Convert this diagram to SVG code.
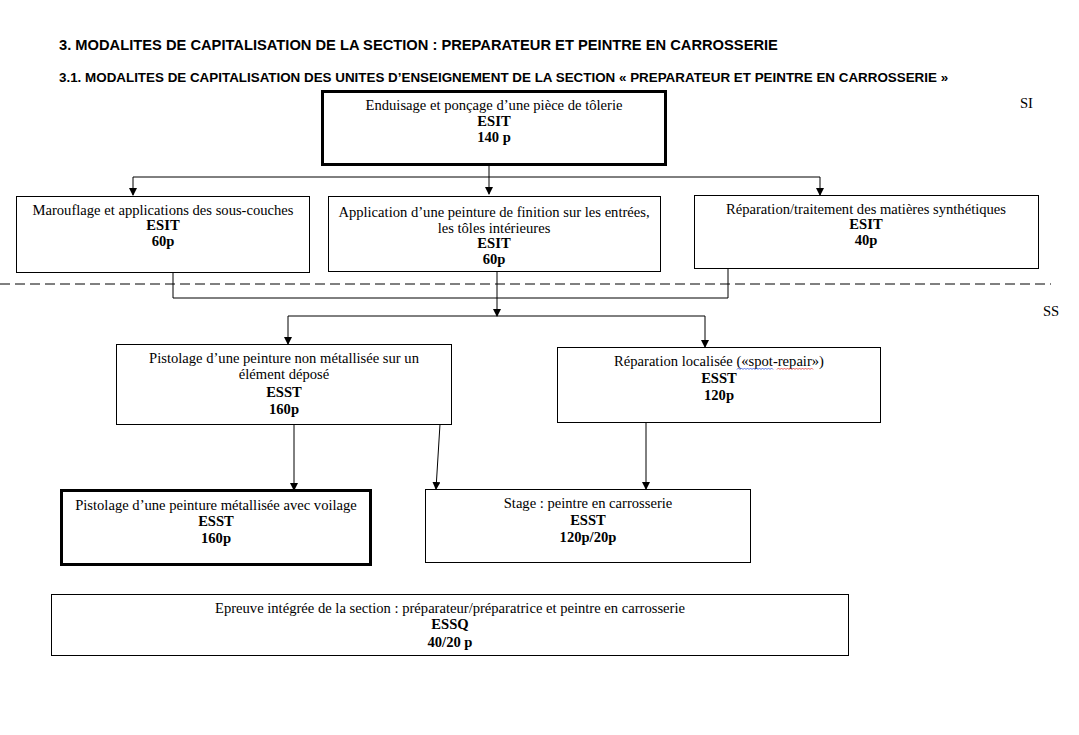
<svg xmlns="http://www.w3.org/2000/svg" width="1079" height="735" viewBox="0 0 1079 735">
<style>
.t{font-family:"Liberation Serif","Times New Roman",serif;font-size:14.6px;fill:#000;text-anchor:middle}
.b{font-weight:bold}
.h{font-family:"Liberation Sans",Arial,sans-serif;font-weight:bold;fill:#000}
.box{fill:#fff;stroke:#000;stroke-width:1}
.thick{fill:#fff;stroke:#000;stroke-width:3}
.c{fill:none;stroke:#000;stroke-width:1}
.lbl{font-family:"Liberation Serif","Times New Roman",serif;font-size:14.6px;fill:#000}
.sq{fill:none;stroke-width:0.8}
</style>
<defs>
<marker id="arr" markerWidth="8" markerHeight="8" refX="7" refY="4" orient="auto" markerUnits="userSpaceOnUse">
<path d="M0,0 L8,4 L0,8 Z" fill="#000"/>
</marker>
</defs>
<rect width="1079" height="735" fill="#fff"/>
<text class="h" x="59" y="50" font-size="14.7">3. MODALITES DE CAPITALISATION DE LA SECTION : PREPARATEUR ET PEINTRE EN CARROSSERIE</text>
<text class="h" x="59" y="82" font-size="13.4">3.1. MODALITES DE CAPITALISATION DES UNITES D’ENSEIGNEMENT DE LA SECTION « PREPARATEUR ET PEINTRE EN CARROSSERIE »</text>
<text class="lbl" x="1020" y="108">SI</text>
<text class="lbl" x="1043" y="316">SS</text>
<line x1="0" y1="284" x2="1051" y2="284" stroke="#000" stroke-width="1" stroke-dasharray="10,5"/>
<g id="connectors">
<path class="c" d="M489,165 V177"/>
<path class="c" d="M133,177 H820"/>
<path class="c" d="M133,177 V195" marker-end="url(#arr)"/>
<path class="c" d="M489,177 V194" marker-end="url(#arr)"/>
<path class="c" d="M820,177 V195" marker-end="url(#arr)"/>
<path class="c" d="M173,273 V298 H728 V269"/>
<path class="c" d="M497,272 V316" marker-end="url(#arr)"/>
<path class="c" d="M288,316 H705"/>
<path class="c" d="M288,316 V344" marker-end="url(#arr)"/>
<path class="c" d="M705,316 V347" marker-end="url(#arr)"/>
<path class="c" d="M294,425 V490" marker-end="url(#arr)"/>
<path class="c" d="M440,424 L436,489" marker-end="url(#arr)"/>
<path class="c" d="M646,423 V489" marker-end="url(#arr)"/>
</g>
<g id="n1">
<rect class="thick" x="322.5" y="91.5" width="343" height="73"/>
<text class="t" x="494" y="110">Enduisage et ponçage d’une pièce de tôlerie</text>
<text class="t b" x="494" y="126">ESIT</text>
<text class="t b" x="494" y="142">140 p</text>
</g>
<g id="n2">
<rect class="box" x="16.5" y="196.5" width="293" height="76"/>
<text class="t" x="163" y="215">Marouflage et applications des sous-couches</text>
<text class="t b" x="163" y="230">ESIT</text>
<text class="t b" x="163" y="246">60p</text>
</g>
<g id="n3">
<rect class="box" x="328.5" y="196.5" width="332" height="75"/>
<text class="t" x="494" y="217">Application d’une peinture de finition sur les entrées,</text>
<text class="t" x="494" y="233">les tôles intérieures</text>
<text class="t b" x="494" y="248">ESIT</text>
<text class="t b" x="494" y="264">60p</text>
</g>
<g id="n4">
<rect class="box" x="694.5" y="195.5" width="344" height="73"/>
<text class="t" x="866" y="214">Réparation/traitement des matières synthétiques</text>
<text class="t b" x="866" y="229">ESIT</text>
<text class="t b" x="866" y="245">40p</text>
</g>
<g id="n5">
<rect class="box" x="116.5" y="344.5" width="335" height="80"/>
<text class="t" x="284" y="363">Pistolage d’une peinture non métallisée sur un</text>
<text class="t" x="284" y="379">élément déposé</text>
<text class="t b" x="284" y="397">ESST</text>
<text class="t b" x="284" y="414">160p</text>
</g>
<g id="n6">
<rect class="box" x="557.5" y="347.5" width="323" height="75"/>
<text class="t" x="719" y="366">Réparation localisée («spot-repair»)</text>
<text class="t b" x="719" y="383">ESST</text>
<text class="t b" x="719" y="400">120p</text>
<path class="sq" stroke="#3050e0" d="M737,369.5 l1.5,-1.5 l1.5,1.5 l1.5,-1.5 l1.5,1.5 l1.5,-1.5 l1.5,1.5 l1.5,-1.5 l1.5,1.5 l1.5,-1.5 l1.5,1.5 l1.5,-1.5 l1.5,1.5 l1.5,-1.5 l1.5,1.5 l1.5,-1.5 l1.5,1.5 l1.5,-1.5 l1.5,1.5 l1.5,-1.5 l1.5,1.5 l1.5,-1.5 l1.5,1.5 l1.5,-1.5 l1.5,1.5"/>
<path class="sq" stroke="#e03030" d="M777,369.5 l1.5,-1.5 l1.5,1.5 l1.5,-1.5 l1.5,1.5 l1.5,-1.5 l1.5,1.5 l1.5,-1.5 l1.5,1.5 l1.5,-1.5 l1.5,1.5 l1.5,-1.5 l1.5,1.5 l1.5,-1.5 l1.5,1.5 l1.5,-1.5 l1.5,1.5 l1.5,-1.5 l1.5,1.5 l1.5,-1.5 l1.5,1.5 l1.5,-1.5 l1.5,1.5 l1.5,-1.5 l1.5,1.5"/>
</g>
<g id="n7">
<rect class="thick" x="61.5" y="490.5" width="309" height="74"/>
<text class="t" x="216" y="510">Pistolage d’une peinture métallisée avec voilage</text>
<text class="t b" x="216" y="526">ESST</text>
<text class="t b" x="216" y="543">160p</text>
</g>
<g id="n8">
<rect class="box" x="425.5" y="489.5" width="325" height="73"/>
<text class="t" x="588" y="508">Stage : peintre en carrosserie</text>
<text class="t b" x="588" y="525">ESST</text>
<text class="t b" x="588" y="542">120p/20p</text>
</g>
<g id="n9">
<rect class="box" x="51.5" y="594.5" width="797" height="61"/>
<text class="t" x="450" y="613">Epreuve intégrée de la section : préparateur/préparatrice et peintre en carrosserie</text>
<text class="t b" x="450" y="629">ESSQ</text>
<text class="t b" x="450" y="647">40/20 p</text>
</g>
</svg>
